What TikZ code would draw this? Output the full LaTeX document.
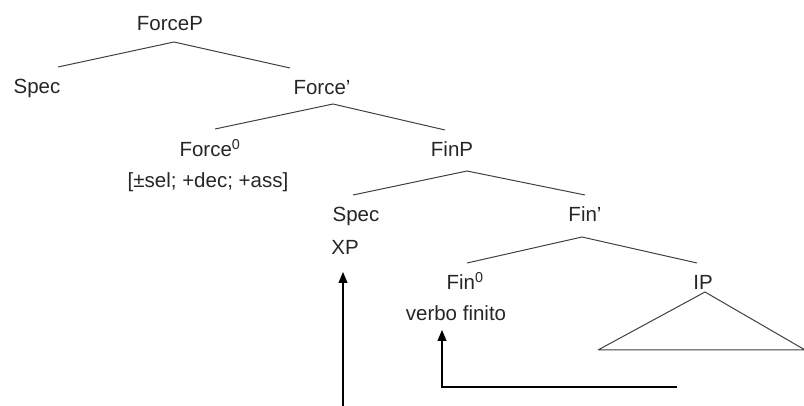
\documentclass[tikz,border=0pt]{standalone}
\usepackage{fontspec}
\setmainfont{Liberation Sans}
\usetikzlibrary{arrows.meta}
\begin{document}
\begin{tikzpicture}[x=1pt,y=-1pt,
  lbl/.style={inner sep=0pt,anchor=base,font=\fontsize{20.5}{24}\selectfont,text=black!85},
  branch/.style={draw=black!75,line width=1pt},
  move/.style={draw=black,line width=1.1pt,-{Triangle[length=11pt,width=9pt]}}]
\useasboundingbox (0,0) rectangle (804,406);
% labels
\node[lbl] (ForceP) at (170,31) {ForceP};
\node[lbl] (Spec1) at (37,94) {Spec};
\node[lbl] (ForceB) at (322,95) {Force’};
\node[lbl] (Force0) at (210,157) {Force\textsuperscript{0}};
\node[lbl] (Feat) at (208,188) {[±sel; +dec; +ass]};
\node[lbl] (FinP) at (452,157) {FinP};
\node[lbl] (Spec2) at (356,222) {Spec};
\node[lbl] (XP) at (345,255) {XP};
\node[lbl] (FinB) at (585,222) {Fin’};
\node[lbl] (Fin0) at (465,290) {Fin\textsuperscript{0}};
\node[lbl] (Verb) at (456,321) {verbo finito};
\node[lbl] (IP) at (703,290) {IP};
% branch points
\coordinate (a1) at (174,42);  \coordinate (l1) at (58,67);   \coordinate (r1) at (290,68);
\coordinate (a2) at (333,104); \coordinate (l2) at (215,129); \coordinate (r2) at (445,130);
\coordinate (a3) at (467,171); \coordinate (l3) at (353,195); \coordinate (r3) at (585,195);
\coordinate (a4) at (582,237); \coordinate (l4) at (467,263); \coordinate (r4) at (697,263);
\draw[branch] (l1) -- (a1) -- (r1);
\draw[branch] (l2) -- (a2) -- (r2);
\draw[branch] (l3) -- (a3) -- (r3);
\draw[branch] (l4) -- (a4) -- (r4);
% IP triangle
\coordinate (t1) at (705,292); \coordinate (t2) at (598,350); \coordinate (t3) at (804,350);
\coordinate (t4) at (812,354);
\draw[branch] (t2) -- (t1) -- (t4) (t2) -- (t3);
% movement arrows
\coordinate (m1s) at (343,406); \coordinate (m1t) at (343,272);
\draw[move] (m1s) -- (m1t);
\coordinate (m2s) at (677,387); \coordinate (m2c) at (442,387); \coordinate (m2t) at (442,330);
\draw[move] (m2s) -- (m2c) -- (m2t);
\end{tikzpicture}
\end{document}
